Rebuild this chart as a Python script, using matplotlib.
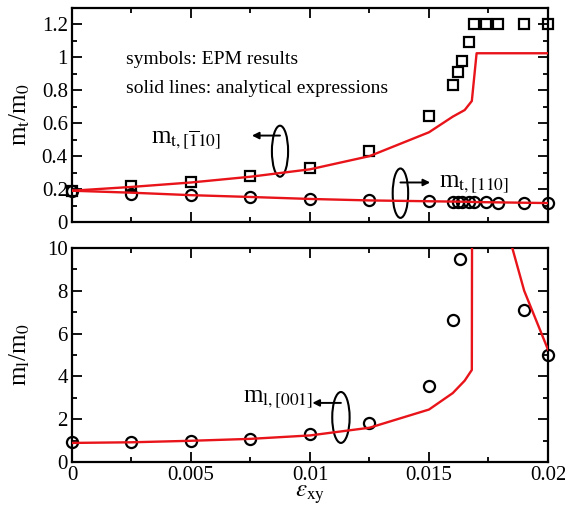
import matplotlib
matplotlib.use("Agg")
import matplotlib.pyplot as plt
from matplotlib.patches import Ellipse
from matplotlib.ticker import MultipleLocator

plt.rcParams["font.family"] = ["Liberation Serif", "DejaVu Serif"]
plt.rcParams["mathtext.fontset"] = "stix"

# EPM results (symbols), upper panel
x_top = [0, 0.0025, 0.005, 0.0075, 0.01, 0.0125, 0.015, 0.016, 0.0162, 0.0164,
         0.0167, 0.0169, 0.0174, 0.0179, 0.019, 0.02]
sq_top = [0.19, 0.22, 0.24, 0.28, 0.33, 0.43, 0.645, 0.83, 0.91, 0.98,
          1.095, 1.2, 1.2, 1.2, 1.2, 1.2]
circ_top = [0.19, 0.172, 0.162, 0.15, 0.14, 0.132, 0.125, 0.123, 0.123, 0.123,
            0.123, 0.122, 0.12, 0.118, 0.117, 0.117]

# analytical expressions, upper panel
line_x_top = [0, 0.0025, 0.005, 0.0075, 0.01, 0.0125, 0.015, 0.016, 0.0165,
              0.0168, 0.017, 0.0175, 0.018, 0.019, 0.02]
line_up = [0.19, 0.213, 0.24, 0.275, 0.32, 0.40, 0.545, 0.64, 0.68,
           0.735, 1.025, 1.025, 1.025, 1.025, 1.025]
line_low = [0.19, 0.178, 0.163, 0.152, 0.14, 0.131, 0.126, 0.124, 0.123,
            0.122, 0.121, 0.12, 0.119, 0.117, 0.115]

# lower panel
x_bot = [0, 0.0025, 0.005, 0.0075, 0.01, 0.0125, 0.015, 0.016, 0.0163, 0.019, 0.02]
circ_bot = [0.92, 0.92, 1.0, 1.07, 1.31, 1.82, 3.54, 6.62, 9.48, 7.12, 4.98]
line_x_bot = [0, 0.0025, 0.005, 0.0075, 0.01, 0.0125, 0.015, 0.016, 0.0165,
              0.0168, 0.01685, 0.0175, 0.018, 0.019, 0.02]
line_bot = [0.89, 0.92, 0.99, 1.08, 1.24, 1.6, 2.45, 3.22, 3.8,
            4.3, 40, 40, 12, 8.0, 5.25]

red = "#e8141a"
fig = plt.figure(figsize=(5.65, 5.08), dpi=100)
ax1 = fig.add_axes([0.1274, 0.563, 0.8425, 0.4213])
ax2 = fig.add_axes([0.1274, 0.0906, 0.8425, 0.4213])

mk = dict(ls="none", mfc="none", mec="k", mew=1.6, clip_on=False, zorder=3)
ax1.plot(x_top, sq_top, marker="s", ms=7, **mk)
ax1.plot(x_top, circ_top, marker="o", ms=8, **mk)
ax1.plot(line_x_top, line_up, color=red, lw=1.7, zorder=4)
ax1.plot(line_x_top, line_low, color=red, lw=1.7, zorder=4)

ax2.plot(x_bot, circ_bot, marker="o", ms=8, **mk)
ax2.plot(line_x_bot, line_bot, color=red, lw=1.7, zorder=4)

for ax in (ax1, ax2):
    ax.set_xlim(0, 0.02)
    ax.xaxis.set_major_locator(MultipleLocator(0.005))
    ax.xaxis.set_minor_locator(MultipleLocator(0.0025))
    ax.tick_params(which="both", direction="in", top=True, right=True,
                   labelsize=15, width=1.3)
    ax.tick_params(which="major", length=7, pad=3)
    ax.tick_params(which="minor", length=3.5)
    for s in ax.spines.values():
        s.set_linewidth(1.6)

ax1.set_ylim(0, 1.3)
ax1.set_yticks([0, 0.2, 0.4, 0.6, 0.8, 1.0, 1.2])
ax1.set_yticklabels(["0", "0.2", "0.4", "0.6", "0.8", "1", "1.2"])
ax1.yaxis.set_minor_locator(MultipleLocator(0.1))
ax1.tick_params(labelbottom=False)
ax1.set_ylabel(r"m$_\mathrm{t}$/m$_0$", fontsize=18)

ax2.set_ylim(0, 10)
ax2.yaxis.set_major_locator(MultipleLocator(2))
ax2.yaxis.set_minor_locator(MultipleLocator(1))
ax2.set_xticks([0, 0.005, 0.01, 0.015, 0.02])
ax2.set_xticklabels(["0", "0.005", "0.01", "0.015", "0.02"])
ax2.set_ylabel(r"m$_\mathrm{l}$/m$_0$", fontsize=18)
ax2.set_xlabel(r"$\varepsilon_\mathrm{xy}$", fontsize=18, labelpad=-1)
ax1.yaxis.set_label_coords(-0.085, 0.5)
ax2.yaxis.set_label_coords(-0.085, 0.5)

# annotations
ax1.text(0.00225, 0.99, "symbols: EPM results", fontsize=14, va="center")
ax1.text(0.00225, 0.81, "solid lines: analytical expressions", fontsize=14, va="center")

arrow = dict(arrowstyle="-|>", color="k", lw=1.4, shrinkA=0, shrinkB=0,
             mutation_scale=10)
ax1.add_patch(Ellipse((0.00874, 0.43), 0.00068, 0.31, fill=False, lw=1.5, ec="k"))
ax1.annotate("", xy=(0.00756, 0.525), xytext=(0.00874, 0.525), arrowprops=arrow)
ax1.text(0.0033, 0.48, r"m$_{\mathrm{t,[}\overline{\mathrm{1}}\mathrm{10]}}$",
         fontsize=18, va="baseline")

ax1.add_patch(Ellipse((0.0138, 0.175), 0.00065, 0.30, fill=False, lw=1.5, ec="k"))
ax1.annotate("", xy=(0.01505, 0.24), xytext=(0.0138, 0.24), arrowprops=arrow)
ax1.text(0.0154, 0.21, r"m$_{\mathrm{t,[110]}}$", fontsize=18, va="baseline")

ax2.add_patch(Ellipse((0.0113, 2.08), 0.00073, 2.38, fill=False, lw=1.5, ec="k"))
ax2.annotate("", xy=(0.0101, 2.76), xytext=(0.0113, 2.76), arrowprops=arrow)
ax2.text(0.0072, 2.8, r"m$_{\mathrm{l,[001]}}$", fontsize=18, va="baseline")

fig.savefig("out.png", dpi=100)
